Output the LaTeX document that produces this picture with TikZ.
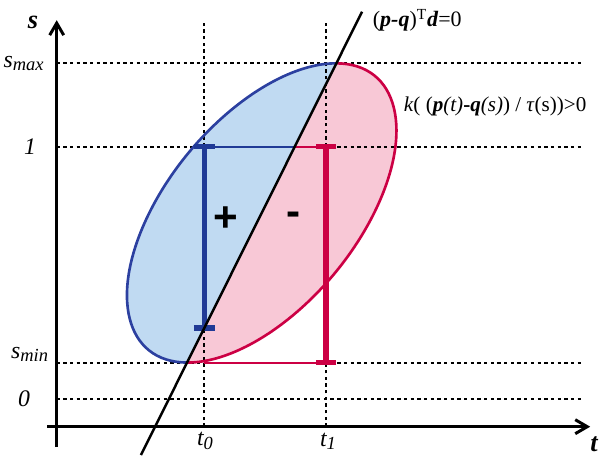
\documentclass[tikz,border=0pt]{standalone}
\usepackage{fontspec}
\setmainfont{Liberation Serif}
\setsansfont{Liberation Sans}
\usetikzlibrary{arrows.meta}
\definecolor{regionBlue}{RGB}{192, 218, 242}
\definecolor{edgeBlue}{RGB}{44, 64, 160}
\definecolor{barBlue}{RGB}{32, 58, 150}
\definecolor{regionPink}{RGB}{248, 200, 214}
\definecolor{edgePink}{RGB}{204, 0, 68}

\begin{document}
\begin{tikzpicture}[
    axis/.style={line width=1.7pt, -{Straight Barb[length=2.4mm, width=2.8mm]}},
    guide/.style={line width=0.95pt, dash pattern=on 1.9pt off 1.9pt},
    bar/.style={line width=3.1pt},
    thinbar/.style={line width=1.3pt},
    lbl/.style={font=\fontsize{13.5}{16}\selectfont},
    sign/.style={font=\sffamily\bfseries\fontsize{24}{28}\selectfont}
  ]
  \useasboundingbox (-1.134,-0.566) rectangle (10.886,8.534);

  % ellipse split by the line (p-q)^T d = 0
  \begin{scope}[shift={(4.10,4.275)}, rotate=50.4]
    \coordinate (top) at (23.55:3.554 and 1.894);
    \coordinate (bot) at (203.55:3.554 and 1.894);
    \fill[regionBlue] (top) arc[start angle=23.55, end angle=203.55, x radius=3.554, y radius=1.894] -- cycle;
    \fill[regionPink] (bot) arc[start angle=203.55, end angle=383.55, x radius=3.554, y radius=1.894] -- cycle;
  \end{scope}

  % guide lines
  \foreach \y in {7.27, 5.6, 1.28, 0.55}
    \draw[guide] (0,\y) -- (10.53,\y);
  \foreach \x in {2.952, 5.386}
    \draw[guide] (\x,0) -- (\x,8.13);

  \begin{scope}[shift={(4.10,4.275)}, rotate=50.4]
    \draw[edgeBlue, line width=1.5pt] (top) arc[start angle=23.55, end angle=203.55, x radius=3.554, y radius=1.894];
    \draw[edgePink, line width=1.5pt] (bot) arc[start angle=203.55, end angle=383.55, x radius=3.554, y radius=1.894];
  \end{scope}

  % axes
  \coordinate (tstart) at (-0.19,0);
  \coordinate (tend) at (10.67,0);
  \coordinate (sstart) at (0,-0.41);
  \coordinate (send) at (0,8.13);
  \draw[axis] (tstart) -- (tend);
  \draw[axis] (sstart) -- (send);

  % intervals at t0 and t1
  \coordinate (B1) at (2.952,5.6);
  \coordinate (B2) at (2.952,1.974);
  \coordinate (M) at (4.761,5.6);
  \coordinate (P1) at (5.386,5.6);
  \coordinate (P2) at (5.386,1.28);
  \coordinate (Q) at (2.952,1.28);

  \draw[thinbar, barBlue] (B1) -- (M);
  \draw[thinbar, edgePink] (M) -- (P1);
  \draw[thinbar, edgePink] (Q) -- (P2);
  \draw[bar, barBlue] (B1) -- (B2);
  \draw[bar, barBlue] ([xshift=-0.21cm]B1) -- ([xshift=0.21cm]B1);
  \draw[bar, barBlue] ([xshift=-0.21cm]B2) -- ([xshift=0.21cm]B2);
  \draw[bar, edgePink] (P1) -- (P2);
  \draw[bar, edgePink] ([xshift=-0.2cm]P1) -- ([xshift=0.2cm]P1);
  \draw[bar, edgePink] ([xshift=-0.2cm]P2) -- ([xshift=0.2cm]P2);

  % separating line
  \coordinate (L1) at (1.685,-0.566);
  \coordinate (L2) at (6.108,8.30);
  \draw[line width=1.4pt] (L1) -- (L2);

  \node[sign] (plus) at (3.386,4.154) {+};
  \node[sign] (minus) at (4.732,4.154) {-};

  % labels
  \node[lbl, font=\fontsize{15}{18}\selectfont\bfseries\itshape] (slbl) at (-0.474,8.094) {s};
  \node[lbl, font=\fontsize{15}{18}\selectfont\bfseries\itshape] (tlbl) at (10.746,-0.356) {t};
  \node[lbl, anchor=east] (smaxlbl) at (-0.14,7.27) {\itshape s\raisebox{-0.3ex}{\fontsize{10.5}{12}\selectfont max}};
  \node[lbl] (onelbl) at (-0.534,5.594) {\itshape 1};
  \node[lbl, anchor=east] (sminlbl) at (-0.05,1.45) {\itshape s\raisebox{-0.3ex}{\fontsize{10.5}{12}\selectfont min}};
  \node[lbl] (zerolbl) at (-0.654,0.554) {\itshape 0};
  \node[lbl] (t0lbl) at (2.966,-0.286) {\itshape t\raisebox{-0.3ex}{\fontsize{10.5}{12}\selectfont 0}};
  \node[lbl] (t1lbl) at (5.426,-0.286) {\itshape t\raisebox{-0.3ex}{\fontsize{10.5}{12}\selectfont 1}};
  \node[lbl, anchor=west, font=\fontsize{12.5}{15}\selectfont] (planelbl) at (6.2,8.13)
    {(\textbf{\textit{p-q}})\textsuperscript{T}\textbf{\textit{d}}=0};
  \node[lbl, anchor=west, font=\fontsize{12}{14}\selectfont, inner sep=1pt] (kernlbl) at (6.9,6.414)
    {\textit{k}( (\textbf{\textit{p}}\textit{(t)}\textbf{-}\textbf{\textit{q}}\textit{(s)}) / \textit{τ}(s))>0};
\end{tikzpicture}
\end{document}
